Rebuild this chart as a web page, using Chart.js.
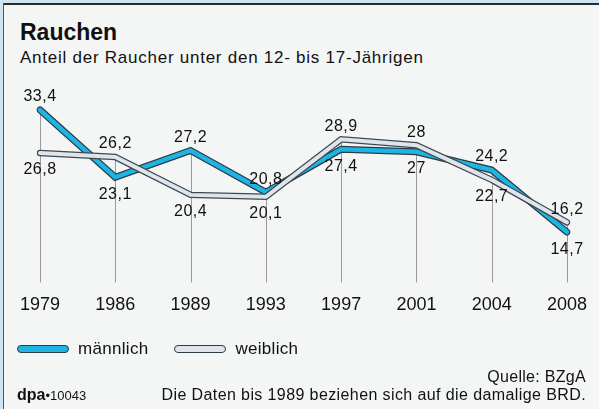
<!DOCTYPE html>
<html>
<head>
<meta charset="utf-8">
<title>Rauchen</title>
<script src="https://cdn.jsdelivr.net/npm/chart.js"></script>
<style>
    html, body { margin: 0; padding: 0; }
    body {
        width: 599px; height: 409px; overflow: hidden; position: relative;
        background: #f4f6f6; font-family: "Liberation Sans", Arial, sans-serif; color: #111;
    }
    .band-top { position: absolute; left: 0; top: 0; width: 599px; height: 3px; background: #cfe3f1; }
    .line-top { position: absolute; left: 3px; top: 3px; width: 596px; height: 2px; background: #2b2b2b; }
    .band-left { position: absolute; left: 0; top: 0; width: 3px; height: 409px; background: #cfe3f1; }
    .line-left { position: absolute; left: 3px; top: 3px; width: 1px; height: 406px; background: #555; }
    .title { position: absolute; left: 20px; top: 19px; font-size: 23px; font-weight: bold; }
    .subtitle { position: absolute; left: 20px; top: 48px; font-size: 17px; letter-spacing: 0.75px; }
    .chart-container { position: absolute; left: 0; top: 0; width: 599px; height: 409px; }
    .legend { position: absolute; left: 17px; top: 339px; font-size: 17px; letter-spacing: 0.3px; display: flex; align-items: center; }
    .pill { display: inline-block; width: 50px; height: 6px; border: 1.5px solid #2e3c44; border-radius: 5px; margin-right: 9px; }
    .quelle { position: absolute; right: 13px; top: 368px; font-size: 16px; letter-spacing: 0.3px; }
    .note { position: absolute; right: 13px; top: 386px; font-size: 16px; letter-spacing: 0.4px; }
    .dpa { position: absolute; left: 17px; top: 386px; font-size: 13px; }
    .dpa b { font-size: 16px; }
</style>
</head>
<body>
<div class="band-top"></div>
<div class="band-left"></div>
<div class="line-top"></div>
<div class="line-left"></div>
<div class="title">Rauchen</div>
<div class="subtitle">Anteil der Raucher unter den 12- bis 17-Jährigen</div>
<div class="chart-container"><canvas id="chart"></canvas></div>
<div class="legend">
    <span class="pill" style="background:#1eb4e4"></span><span style="margin-right:26px">männlich</span>
    <span class="pill" style="background:#dfe5ea"></span><span>weiblich</span>
</div>
<div class="quelle">Quelle: BZgA</div>
<div class="note">Die Daten bis 1989 beziehen sich auf die damalige BRD.</div>
<div class="dpa"><b>dpa</b>•10043</div>

<script>
    const years = ['1979', '1986', '1989', '1993', '1997', '2001', '2004', '2008'];
    const maennlich = [33.4, 23.1, 27.2, 20.8, 27.4, 27, 24.2, 14.7];
    const weiblich = [26.8, 26.2, 20.4, 20.1, 28.9, 28, 22.7, 16.2];

    const fmt = v => String(v).replace('.', ',');

    // grey drop lines from the higher point down to the axis
    const dropLines = {
        id: 'dropLines',
        beforeDatasetsDraw(chart) {
            const ctx = chart.ctx;
            const x = chart.scales.x, y = chart.scales.y;
            ctx.save();
            ctx.strokeStyle = '#9a9a9a';
            ctx.lineWidth = 1;
            years.forEach((yr, i) => {
                const px = Math.round(x.getPixelForValue(i)) + 0.5;
                const top = y.getPixelForValue(Math.max(maennlich[i], weiblich[i]));
                ctx.beginPath();
                ctx.moveTo(px, top);
                ctx.lineTo(px, chart.chartArea.bottom);
                ctx.stroke();
            });
            ctx.restore();
        }
    };

    // value labels: higher value above, lower value below
    const valueLabels = {
        id: 'valueLabels',
        afterDatasetsDraw(chart) {
            const ctx = chart.ctx;
            const x = chart.scales.x, y = chart.scales.y;
            ctx.save();
            ctx.font = '16px "Liberation Sans", Arial, sans-serif';
            ctx.letterSpacing = '0.5px';
            ctx.fillStyle = '#111';
            ctx.textAlign = 'center';
            ctx.textBaseline = 'middle';
            years.forEach((yr, i) => {
                const px = x.getPixelForValue(i);
                const hi = Math.max(maennlich[i], weiblich[i]);
                const lo = Math.min(maennlich[i], weiblich[i]);
                ctx.fillText(fmt(hi), px, y.getPixelForValue(hi) - 13);
                ctx.fillText(fmt(lo), px, y.getPixelForValue(lo) + 17);
            });
            ctx.restore();
        }
    };

    const lineBase = { fill: false, tension: 0, pointRadius: 0, pointHoverRadius: 0,
        borderCapStyle: 'round', borderJoinStyle: 'miter' };

    new Chart(document.getElementById('chart'), {
        type: 'line',
        data: {
            labels: years,
            datasets: [
                Object.assign({ label: 'männlich outline', data: maennlich, borderColor: '#2e3c44', borderWidth: 7, order: 4 }, lineBase),
                Object.assign({ label: 'männlich', data: maennlich, borderColor: '#1eb4e4', borderWidth: 4.5, order: 3 }, lineBase),
                Object.assign({ label: 'weiblich outline', data: weiblich, borderColor: '#3b4a54', borderWidth: 6.5, order: 2 }, lineBase),
                Object.assign({ label: 'weiblich', data: weiblich, borderColor: '#dfe5ea', borderWidth: 4, order: 1 }, lineBase)
            ]
        },
        options: {
            responsive: true,
            maintainAspectRatio: false,
            animation: false,
            layout: { padding: { left: 40, right: 32, top: 93, bottom: 81 } },
            plugins: { legend: { display: false }, tooltip: { enabled: false } },
            scales: {
                x: {
                    offset: false,
                    grid: { display: false, drawTicks: false },
                    border: { display: false },
                    ticks: { color: '#111', padding: 12, font: { size: 18, family: '"Liberation Sans", Arial, sans-serif' } }
                },
                y: { display: false, min: 7, max: 36 }
            }
        },
        plugins: [dropLines, valueLabels]
    });
</script>
</body>
</html>
